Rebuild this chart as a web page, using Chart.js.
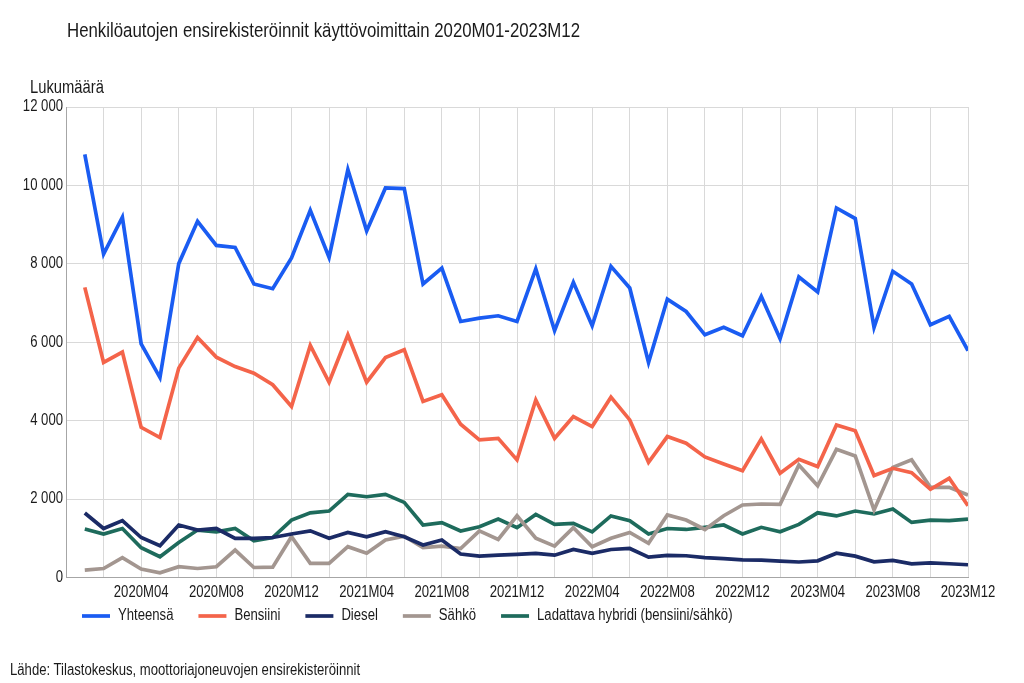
<!DOCTYPE html>
<html>
<head>
<meta charset="utf-8">
<script src="https://cdn.jsdelivr.net/npm/chart.js@4"></script>
<style>
  html, body { margin: 0; padding: 0; background: #ffffff; }
  #wrap { position: relative; width: 1024px; height: 683px; overflow: hidden; }
  canvas { position: absolute; left: 0; top: 0; }
  .txt { position: absolute; white-space: nowrap; color: #1a1a1a;
         font-family: 'Liberation Sans', Arial, sans-serif; line-height: 1;
         transform: scaleX(0.82); transform-origin: 0 0; }
</style>
</head>
<body>
<div id="wrap">
  <canvas id="c" width="1024" height="683"></canvas>
  <div class="txt" style="left:67px; top:20.3px; font-size:20.5px;">Henkilöautojen ensirekisteröinnit käyttövoimittain 2020M01-2023M12</div>
  <div class="txt" style="left:30px; top:78.1px; font-size:18px;">Lukumäärä</div>
  <div class="txt" style="left:10px; top:661.5px; font-size:16px;">Lähde: Tilastokeskus, moottoriajoneuvojen ensirekisteröinnit</div>
</div>
<script>
const categories = [
  "2020M01","2020M02","2020M03","2020M04","2020M05","2020M06","2020M07","2020M08","2020M09","2020M10","2020M11","2020M12",
  "2021M01","2021M02","2021M03","2021M04","2021M05","2021M06","2021M07","2021M08","2021M09","2021M10","2021M11","2021M12",
  "2022M01","2022M02","2022M03","2022M04","2022M05","2022M06","2022M07","2022M08","2022M09","2022M10","2022M11","2022M12",
  "2023M01","2023M02","2023M03","2023M04","2023M05","2023M06","2023M07","2023M08","2023M09","2023M10","2023M11","2023M12"
];
const seriesNames = ["Yhteensä", "Bensiini", "Diesel", "Sähkö", "Ladattava hybridi (bensiini/sähkö)"];
const yhteensa = [10790, 8250, 9190, 5960, 5100, 8005, 9085, 8470, 8420, 7485, 7365, 8150,
                  9365, 8165, 10405, 8840, 9935, 9920, 7485, 7890, 6530, 6615, 6675, 6530,
                  7870, 6295, 7530, 6420, 7935, 7385, 5485, 7100, 6785, 6190, 6380, 6165,
                  7170, 6090, 7665, 7280, 9425, 9155, 6380, 7810, 7485, 6445, 6660, 5785];
const bensiini = [7400, 5485, 5750, 3830, 3570, 5340, 6120, 5620, 5380, 5210, 4915, 4360,
                  5920, 4980, 6190, 4980, 5610, 5810, 4490, 4660, 3910, 3510, 3550, 3000,
                  4530, 3550, 4105, 3850, 4600, 4020, 2940, 3595, 3425, 3075, 2895, 2725,
                  3535, 2660, 3015, 2830, 3890, 3745, 2600, 2785, 2675, 2250, 2530, 1830];
const diesel = [1645, 1250, 1450, 1020, 810, 1340, 1210, 1250, 1000, 1000, 1020, 1110,
                1190, 1000, 1150, 1040, 1170, 1040, 830, 955, 600, 545, 570, 590,
                615, 570, 715, 615, 715, 740, 520, 565, 555, 505, 480, 450,
                445, 420, 395, 425, 620, 545, 400, 435, 350, 375, 350, 325];
const sahko = [190, 230, 505, 215, 120, 275, 230, 275, 700, 255, 265, 1040,
               360, 360, 785, 620, 955, 1055, 760, 800, 740, 1190, 970, 1575,
               1000, 800, 1270, 785, 1000, 1150, 870, 1595, 1465, 1225, 1575, 1850,
               1875, 1865, 2870, 2340, 3270, 3100, 1720, 2810, 3000, 2300, 2300, 2105];
const hybridi = [1235, 1110, 1250, 760, 530, 895, 1210, 1165, 1250, 935, 1020, 1465,
                 1650, 1695, 2120, 2060, 2120, 1915, 1340, 1400, 1185, 1295, 1490, 1270,
                 1610, 1355, 1380, 1165, 1570, 1450, 1110, 1250, 1225, 1280, 1340, 1110,
                 1280, 1165, 1355, 1650, 1570, 1695, 1620, 1745, 1405, 1465, 1450, 1490];
const yTicks = [0, 2000, 4000, 6000, 8000, 10000, 12000];

const colors = ['#1a5cf2', '#f4644a', '#1b2b66', '#a39690', '#1e6b5c'];
const seriesValues = [yhteensa, bensiini, diesel, sahko, hybridi];

Chart.defaults.font.family = "'Liberation Sans', Arial, sans-serif";
Chart.defaults.color = '#1a1a1a';

// Emulate a narrow (condensed) typeface: scale canvas text horizontally about its anchor.
const NARROW = 0.82;
const canvas = document.getElementById('c');
const ctx = canvas.getContext('2d');
const origFill = ctx.fillText;
const origMeasure = ctx.measureText;
ctx.fillText = function (text, x, y) {
  this.save();
  this.translate(x, y);
  this.scale(NARROW, 1);
  origFill.call(this, text, 0, 0);
  this.restore();
};
ctx.measureText = function (text) {
  const m = origMeasure.call(this, text);
  return {
    width: m.width * NARROW,
    actualBoundingBoxLeft: m.actualBoundingBoxLeft * NARROW,
    actualBoundingBoxRight: m.actualBoundingBoxRight * NARROW,
    actualBoundingBoxAscent: m.actualBoundingBoxAscent,
    actualBoundingBoxDescent: m.actualBoundingBoxDescent,
    fontBoundingBoxAscent: m.fontBoundingBoxAscent,
    fontBoundingBoxDescent: m.fontBoundingBoxDescent
  };
};

function fmt(v) { return String(v).replace(/\B(?=(\d{3})+(?!\d))/g, ' '); }

const legendPlacer = {
  id: 'legendPlacer',
  afterLayout(chart) {
    const lg = chart.legend;
    if (!lg) return;
    const h = lg.height;
    lg.left = 57;
    lg.top = 583;
    lg.bottom = 583 + h;
  }
};

new Chart(canvas, {
  type: 'line',
  data: {
    datasets: seriesValues.map((vals, s) => ({
      label: seriesNames[s],
      data: vals.map((v, i) => ({ x: i, y: v })),
      borderColor: colors[s],
      backgroundColor: colors[s],
      borderWidth: 3.7,
      pointRadius: 0,
      pointHoverRadius: 0,
      tension: 0,
      fill: false
    }))
  },
  options: {
    responsive: false,
    animation: false,
    devicePixelRatio: 1,
    layout: { padding: { left: 23, right: 56, top: 107, bottom: 25.3 } },
    plugins: {
      title: { display: false },
      tooltip: { enabled: false },
      legend: {
        position: 'bottom',
        align: 'start',
        labels: {
          usePointStyle: true,
          pointStyle: 'line',
          pointStyleWidth: 28,
          padding: 25,
          font: { size: 16 },
          color: '#1a1a1a'
        }
      }
    },
    scales: {
      x: {
        type: 'linear',
        min: -1,
        max: categories.length - 1,
        ticks: {
          stepSize: 1,
          autoSkip: false,
          maxRotation: 0,
          minRotation: 0,
          padding: 5,
          font: { size: 16 },
          color: '#1a1a1a',
          callback: (v) => (Number.isInteger(v) && v >= 0 && v % 4 === 3 ? categories[v] : '')
        },
        grid: {
          drawTicks: false,
          lineWidth: 1,
          color: (c) => (c.tick && Math.abs(c.tick.value % 2) === 1 ? '#d9d9d9' : 'rgba(0,0,0,0)')
        },
        border: { display: true, color: '#a6a6a6', width: 1 }
      },
      y: {
        min: 0,
        max: 12000,
        afterBuildTicks: (scale) => { scale.ticks = yTicks.map(v => ({ value: v })); },
        afterFit: (scale) => { scale.width = 43; },
        ticks: {
          padding: 3,
          font: { size: 16 },
          color: '#1a1a1a',
          callback: (v) => fmt(v)
        },
        grid: { drawTicks: false, color: '#d9d9d9', lineWidth: 1 },
        border: { display: true, color: '#a6a6a6', width: 1 }
      }
    }
  },
  plugins: [legendPlacer]
});
</script>
</body>
</html>
